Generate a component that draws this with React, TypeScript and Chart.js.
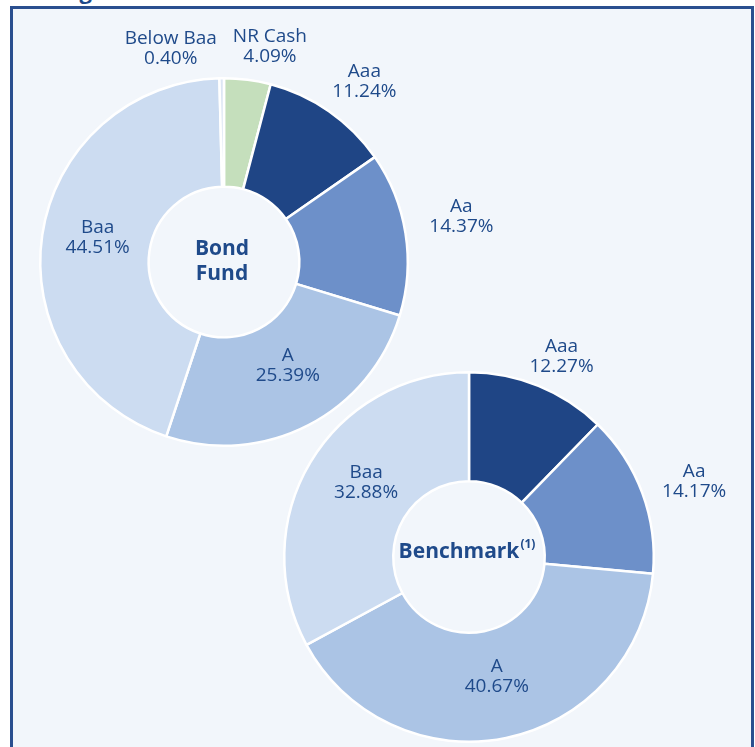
import React, { useEffect, useRef } from "react";
import { Chart, registerables } from "chart.js";

Chart.register(...registerables);

// ---- Data ----
const fundCategories = ["NR Cash", "Aaa", "Aa", "A", "Baa", "Below Baa"];
const fundValues = [4.09, 11.24, 14.37, 25.39, 44.51, 0.4];
const fundColors = ["#C5DFBC", "#1F4585", "#6D90C9", "#ABC4E5", "#CCDCF1", "#DCE6F4"];
// label placement: distance as fraction of outer radius, angular nudge (deg, clockwise)
const fundLabelDist = [1.196, 1.245, 1.315, 0.663, 0.7, 1.196];
const fundLabelNudge = [4.7, 2.9, -1.8, -4.2, 2.3, -13.3];

const benchCategories = ["Aaa", "Aa", "A", "Baa"];
const benchValues = [12.27, 14.17, 40.67, 32.88];
const benchColors = ["#1F4585", "#6D90C9", "#ABC4E5", "#CCDCF1"];
const benchLabelDist = [1.195, 1.286, 0.665, 0.686];
const benchLabelNudge = [2.7, 1.7, -1.5, 4.9];

const TEXT_COLOR = "#1F4A8A";
const FONT = "'Open Sans', 'Noto Sans', sans-serif";

const W = 755;
const H = 747;

function makeLabelPlugin(dists: number[], nudges: number[], centerLines: string[], sup?: string) {
  return {
    id: "labels",
    afterDatasetsDraw(chart: any) {
      const ctx = chart.ctx;
      const meta = chart.getDatasetMeta(0);
      const ds = chart.data.datasets[0];
      const labels = chart.data.labels;
      ctx.save();
      ctx.fillStyle = TEXT_COLOR;
      ctx.textAlign = "center";
      ctx.textBaseline = "middle";
      ctx.font = `19px ${FONT}`;
      meta.data.forEach((arc: any, i: number) => {
        const p = arc.getProps(["x", "y", "startAngle", "endAngle", "outerRadius"], true);
        const mid = (p.startAngle + p.endAngle) / 2 + (nudges[i] * Math.PI) / 180;
        const r = p.outerRadius * dists[i];
        const cx = p.x + Math.cos(mid) * r;
        const cy = p.y + Math.sin(mid) * r;
        ctx.fillText(String(labels[i]), cx, cy - 10);
        ctx.fillText(Number(ds.data[i]).toFixed(2) + "%", cx, cy + 10);
      });
      // center text
      const a0 = meta.data[0].getProps(["x", "y"], true);
      ctx.font = `bold 21px ${FONT}`;
      const n = centerLines.length;
      centerLines.forEach((line, k) => {
        const y = a0.y + (k - (n - 1) / 2) * 25 - (n === 1 ? 5 : 0);
        if (sup) {
          const w1 = ctx.measureText(line).width;
          ctx.font = `bold 12px ${FONT}`;
          const w2 = ctx.measureText(sup).width;
          const total = w1 + w2 + 1;
          const left = a0.x - 2 - total / 2;
          ctx.textAlign = "left";
          ctx.fillText(sup, left + w1 + 1, y - 7);
          ctx.font = `bold 21px ${FONT}`;
          ctx.fillText(line, left, y);
          ctx.textAlign = "center";
        } else {
          ctx.fillText(line, a0.x - 2, y);
        }
      });
      ctx.restore();
    },
  };
}

function Doughnut(props: {
  labels: string[];
  values: number[];
  colors: string[];
  dists: number[];
  nudges: number[];
  center: string[];
  sup?: string;
  padding: { left: number; right: number; top: number; bottom: number };
}) {
  const ref = useRef<HTMLCanvasElement | null>(null);
  useEffect(() => {
    if (!ref.current) return;
    const chart = new Chart(ref.current, {
      type: "doughnut",
      data: {
        labels: props.labels,
        datasets: [
          {
            data: props.values,
            backgroundColor: props.colors,
            borderColor: "#FFFFFF",
            borderWidth: 2.5,
          },
        ],
      },
      options: {
        responsive: false,
        animation: false,
        devicePixelRatio: 1,
        cutout: "41%",
        rotation: 0,
        events: [],
        layout: { padding: props.padding },
        plugins: {
          legend: { display: false },
          tooltip: { enabled: false },
          title: { display: false },
        },
      } as any,
      plugins: [makeLabelPlugin(props.dists, props.nudges, props.center, props.sup)],
    });
    return () => chart.destroy();
  }, []);
  return (
    <canvas
      ref={ref}
      width={W}
      height={H}
      style={{ position: "absolute", left: 0, top: 0, width: W, height: H }}
    />
  );
}

export default function App() {
  return (
    <div
      style={{
        position: "absolute",
        left: 0,
        top: 0,
        width: W,
        height: H,
        overflow: "hidden",
        background: "#FFFFFF",
        fontFamily: FONT,
      }}
    >
      <div
        style={{
          position: "absolute",
          left: 21,
          top: -21.5,
          fontSize: 22,
          lineHeight: "22px",
          fontWeight: 700,
          color: TEXT_COLOR,
          whiteSpace: "nowrap",
        }}
      >
        Rating
      </div>
      <div
        style={{
          position: "absolute",
          left: 10,
          top: 6,
          width: 738,
          height: 760,
          border: "3px solid #2A4F8F",
          background: "#F2F6FB",
        }}
      />
      <Doughnut
        labels={fundCategories}
        values={fundValues}
        colors={fundColors}
        dists={fundLabelDist}
        nudges={fundLabelNudge}
        center={["Bond", "Fund"]}
        padding={{ left: 39, right: W - 409, top: 77, bottom: H - 447 }}
      />
      <Doughnut
        labels={benchCategories}
        values={benchValues}
        colors={benchColors}
        dists={benchLabelDist}
        nudges={benchLabelNudge}
        center={["Benchmark"]}
        sup="(1)"
        padding={{ left: 283, right: W - 655, top: 371, bottom: H - 743 }}
      />
    </div>
  );
}
